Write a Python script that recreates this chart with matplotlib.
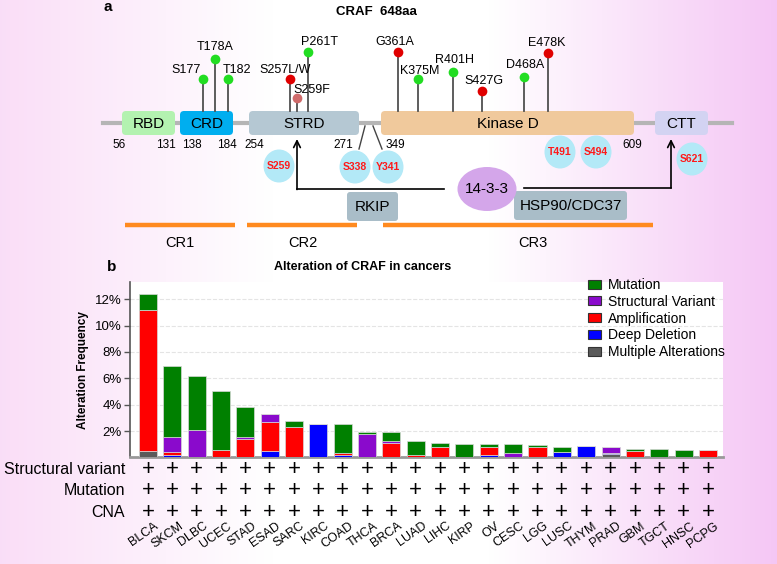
import matplotlib
matplotlib.use('Agg')
import matplotlib.pyplot as plt
import numpy as np
from matplotlib.patches import FancyBboxPatch, Ellipse, Patch
from matplotlib.transforms import ScaledTranslation

plt.rcParams['font.family'] = ['Liberation Sans', 'DejaVu Sans']

# ---- panel b data (alteration frequency, %) ----
cancers = ['BLCA', 'SKCM', 'DLBC', 'UCEC', 'STAD', 'ESAD', 'SARC', 'KIRC', 'COAD', 'THCA',
           'BRCA', 'LUAD', 'LIHC', 'KIRP', 'OV', 'CESC', 'LGG', 'LUSC', 'THYM', 'PRAD',
           'GBM', 'TGCT', 'HNSC', 'PCPG']
multiple = [0.46, 0, 0, 0, 0, 0, 0, 0, 0, 0, 0, 0, 0, 0, 0, 0, 0, 0, 0, 0.24, 0, 0, 0, 0]
deep_del = [0, 0.16, 0, 0, 0, 0.51, 0, 2.53, 0.16, 0, 0, 0, 0, 0, 0.16, 0, 0, 0.41, 0.83, 0.12,
            0, 0, 0, 0]
amplification = [10.68, 0.25, 0, 0.54, 1.37, 2.2, 2.33, 0, 0.17, 0, 1.08, 0.19, 0.8, 0, 0.66,
                 0, 0.77, 0, 0, 0, 0.51, 0, 0, 0.56]
struct_var = [0, 1.14, 2.05, 0, 0.2, 0.55, 0, 0, 0, 1.77, 0.2, 0, 0, 0, 0, 0.3, 0, 0, 0, 0.43,
              0, 0, 0, 0]
mutation = [1.22, 5.37, 4.14, 4.51, 2.25, 0, 0.4, 0, 2.17, 0.18, 0.64, 1.03, 0.27, 1.04, 0.2,
            0.69, 0.19, 0.4, 0, 0, 0.15, 0.66, 0.56, 0]
row_labels = ['Structural variant', 'Mutation', 'CNA']
yticks = [2, 4, 6, 8, 10, 12]

# ---- panel a data ----
domains = ['RBD', 'CRD', 'STRD', 'Kinase D', 'CTT']
aa_marks = ['56', '131', '138', '184', '254', '271', '349', '609']
mutations = ['S177', 'T178A', 'T182', 'S257L/W', 'S259F', 'P261T', 'G361A', 'K375M',
             'R401H', 'S427G', 'D468A', 'E478K']
mut_kind = ['g', 'g', 'g', 'r', 'p', 'g', 'r', 'g', 'g', 'r', 'g', 'r']
phospho = ['S259', 'S338', 'Y341', 'T491', 'S494', 'S621']
regions = ['CR1', 'CR2', 'CR3']

# ---- schematic layout (pixel coords) ----
dom_x = [(122, 175), (180, 233), (249, 359), (381, 634), (655, 708)]
dom_col = ['#b3f2b0', '#00aeef', '#b5c8d3', '#f0c99c', '#d3d3f2']
aa_x = [119, 166, 192, 227, 254, 343, 395, 632]
mut_x = [203, 215, 228, 290, 297, 308, 398, 418, 453, 482, 524, 548]
mut_hy = [79, 59, 79, 79, 98, 52, 52, 79, 72, 91, 77, 53]
lab_x = [186, 215, 237, 285, 312, 320, 395, 420, 454, 484, 525, 547]
lab_y = [70, 47, 70, 70, 90, 42, 42, 71, 60, 81, 65, 43]
kind_col = {'g': '#22dd22', 'r': '#e00000', 'p': '#cf6a6a'}
ph_xy = [(279, 166), (355, 167), (388, 167), (560, 152), (596, 152), (692, 159)]
cr_x = [(125, 235), (247, 357), (383, 653)]
cr_lab = [180, 303, 533]

fig = plt.figure(figsize=(7.77, 5.64), dpi=100)

ax0 = fig.add_axes([0, 0, 1, 1])
ax0.set_xlim(0, 777)
ax0.set_ylim(564, 0)
ax0.axis('off')

# pink background gradient
gx = np.linspace(0, 1, 400)
r = np.interp(gx, [0, 0.35, 0.63, 1], [0.98, 1, 1, 0.96])
g = np.interp(gx, [0, 0.35, 0.63, 1], [0.87, 1, 1, 0.78])
b = np.interp(gx, [0, 0.35, 0.63, 1], [0.97, 1, 1, 0.96])
grad = np.dstack([r, g, b])
ax0.imshow(grad, extent=(0, 777, 564, 0), aspect='auto', zorder=0)

ax0.text(103, 7, 'a', fontsize=11, fontweight='bold', va='center')
ax0.text(376, 12, 'CRAF  648aa', fontsize=9.5, fontweight='bold', ha='center', va='center')

# backbone and domains
ax0.plot([103, 732], [123, 123], color='#b5b5b5', lw=3, zorder=1)
for name, (x0, x1), c in zip(domains, dom_x, dom_col):
    ax0.add_patch(FancyBboxPatch((x0, 111), x1 - x0, 24, boxstyle='round,pad=0,rounding_size=4',
                                 fc=c, ec='none', zorder=2))
    ax0.text((x0 + x1) / 2, 123.5, name, fontsize=11, ha='center', va='center', zorder=3)
for lbl, x in zip(aa_marks, aa_x):
    ax0.text(x, 145, lbl, fontsize=8.5, ha='center', va='center')
ax0.plot([365, 359], [126, 149], color='#444444', lw=1)
ax0.plot([373, 382], [126, 149], color='#444444', lw=1)

# mutation lollipops
for name, k, x, hy, lx, ly in zip(mutations, mut_kind, mut_x, mut_hy, lab_x, lab_y):
    ax0.plot([x, x], [111, hy], color='#505050', lw=1.3, zorder=2)
    ax0.plot(x, hy, 'o', ms=7, color=kind_col[k], mec='none', zorder=4)
    ax0.text(lx, ly, name, fontsize=9, ha='center', va='center')

# interaction lines
ax0.annotate('', xy=(297, 139), xytext=(297, 189.5),
             arrowprops=dict(arrowstyle='->', color='black', lw=1.2, mutation_scale=12,
                             shrinkA=0, shrinkB=0))
ax0.plot([297, 444], [189, 189], color='black', lw=1.2)
ax0.annotate('', xy=(671, 139), xytext=(671, 188),
             arrowprops=dict(arrowstyle='->', color='black', lw=1.2, mutation_scale=12,
                             shrinkA=0, shrinkB=0))
ax0.plot([524, 671], [187.5, 187.5], color='black', lw=1.2)

for name, (x, y) in zip(phospho, ph_xy):
    ax0.add_patch(Ellipse((x, y), 31, 33, fc='#b3e9f7', ec='none', zorder=3))
    ax0.text(x, y, name, fontsize=7.5, fontweight='bold', color='#ff1a1a',
             ha='center', va='center', zorder=4)

ax0.add_patch(FancyBboxPatch((347, 192), 51, 29, boxstyle='round,pad=0,rounding_size=3',
                             fc='#a9bdc8', ec='none', zorder=3))
ax0.text(372.5, 207, 'RKIP', fontsize=11, ha='center', va='center', zorder=4)
ax0.add_patch(Ellipse((487, 189), 59, 44, fc='#d4a6ea', ec='none', zorder=3))
ax0.text(487, 189, '14-3-3', fontsize=11, ha='center', va='center', zorder=4)
ax0.add_patch(FancyBboxPatch((514, 191), 113, 29, boxstyle='round,pad=0,rounding_size=3',
                             fc='#a9bdc8', ec='none', zorder=2))
ax0.text(570.5, 206, 'HSP90/CDC37', fontsize=11, ha='center', va='center', zorder=4)

for name, (x0, x1), lx in zip(regions, cr_x, cr_lab):
    ax0.plot([x0, x1], [225, 225], color='#ff8a1f', lw=3.2, solid_capstyle='butt')
    ax0.text(lx, 243, name, fontsize=10.5, ha='center', va='center')

ax0.text(107, 267, 'b', fontsize=11, fontweight='bold', va='center')
ax0.text(363, 267, 'Alteration of CRAF in cancers', fontsize=9, fontweight='bold',
         ha='center', va='center')

# ---- panel b bars ----
ax = fig.add_axes([130 / 777, (564 - 457.4) / 564, 593 / 777, 175.4 / 564])
x = np.arange(len(cancers))
series = [(mutation, 'Mutation', '#008000'),
          (struct_var, 'Structural Variant', '#8a0acc'),
          (amplification, 'Amplification', '#ff0000'),
          (deep_del, 'Deep Deletion', '#0000ff'),
          (multiple, 'Multiple Alterations', '#5a5a5a')]
bottom = np.zeros(len(cancers))
for vals, lab, c in [series[4], series[3], series[2], series[1], series[0]]:
    v = np.array(vals)
    ax.bar(x, v, 0.74, bottom=bottom, color=c, edgecolor='#d8d8d8', linewidth=0.5, zorder=3)
    bottom += v

ax.set_xlim(-0.74, 23.62)
ax.set_ylim(0, 13.3)
ax.set_yticks(yticks, [f'{v}%' for v in yticks], fontsize=9.5)
ax.set_ylabel('Alteration Frequency', fontsize=8.5, fontweight='bold', labelpad=4)
ax.grid(axis='y', color='#e4e4e4', linestyle='--', lw=0.8, zorder=0)
for s in ['top', 'right']:
    ax.spines[s].set_visible(False)
ax.spines['left'].set_color('#555555')
ax.spines['left'].set_linewidth(1.2)
ax.spines['bottom'].set_color('#999999')
ax.spines['bottom'].set_linewidth(2)
ax.tick_params(axis='y', length=4, width=1, color='#555555', pad=2)
ax.tick_params(axis='x', length=0, pad=45)
ax.set_xticks(x, cancers, fontsize=9, rotation=35, ha='right', va='top', rotation_mode='anchor')
for lbl in ax.get_xticklabels():
    lbl.set_transform(lbl.get_transform() + ScaledTranslation(0.06, 0, fig.dpi_scale_trans))

row_y = [-0.068, -0.188, -0.312]
xt = ax.get_xaxis_transform()
for lab, ry in zip(row_labels, row_y):
    ax.text(-0.0084, ry, lab, fontsize=11.5, ha='right', va='center', transform=ax.transAxes,
            clip_on=False)
    for i in x:
        ax.text(i, ry, '+', fontsize=16, ha='center', va='center', transform=xt, clip_on=False)

handles = [Patch(fc=c, ec='#333333', lw=0.8, label=lab) for _, lab, c in series]
ax.legend(handles=handles, loc='upper left', bbox_to_anchor=(588 / 777, 1 - 278 / 564),
          bbox_transform=fig.transFigure, frameon=False, fontsize=10, handlelength=0.95,
          handleheight=0.6, handletextpad=0.5, labelspacing=0.2, borderpad=0,
          borderaxespad=0)

fig.savefig('out.png', dpi=100)
